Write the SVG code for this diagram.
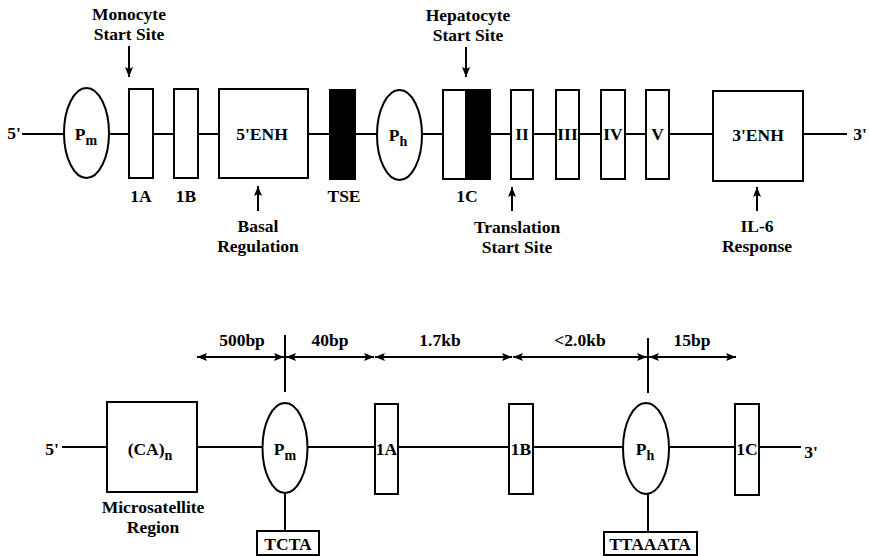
<svg xmlns="http://www.w3.org/2000/svg" width="869" height="556" viewBox="0 0 869 556">
<style>
text{font-family:"Liberation Serif","Times New Roman",serif;font-weight:bold;font-size:17.5px;fill:#000;text-anchor:middle}
.sub{font-size:14px}
.ln{stroke:#000;stroke-width:2;fill:none}
.box{stroke:#000;stroke-width:2;fill:#fff}
.blk{stroke:#000;stroke-width:2;fill:#000}
.arr{stroke:#000;stroke-width:2;fill:none;marker-end:url(#ah)}
.dim{stroke:#000;stroke-width:2;fill:none;marker-start:url(#ah);marker-end:url(#ah)}
</style>
<defs>
<marker id="ah" viewBox="0 0 10 8" refX="10" refY="4" markerWidth="10" markerHeight="8" orient="auto-start-reverse" markerUnits="userSpaceOnUse"><path d="M0,0 L10,4 L0,8 L2,4 z" fill="#000"/></marker>
</defs>
<rect width="869" height="556" fill="#fff"/>
<g id="connectors">
<line class="ln" x1="22" y1="134" x2="847" y2="134"/>
<line class="ln" x1="62" y1="447" x2="801" y2="447"/>
<line class="arr" x1="129" y1="46" x2="129" y2="77"/>
<line class="arr" x1="466" y1="47" x2="466" y2="77"/>
<line class="arr" x1="258" y1="211" x2="258" y2="186"/>
<line class="arr" x1="512" y1="211" x2="512" y2="187"/>
<line class="arr" x1="757" y1="211" x2="757" y2="187"/>
<line class="ln" x1="285" y1="335" x2="285" y2="392"/>
<line class="ln" x1="648" y1="338" x2="648" y2="393"/>
<line class="dim" x1="197" y1="357" x2="284" y2="357"/>
<line class="dim" x1="286" y1="357" x2="374" y2="357"/>
<line class="dim" x1="375" y1="357" x2="512" y2="357"/>
<line class="dim" x1="513" y1="357" x2="647" y2="357"/>
<line class="dim" x1="649" y1="357" x2="736" y2="357"/>
<line class="ln" x1="285" y1="493" x2="285" y2="531"/>
<line class="ln" x1="648" y1="494" x2="648" y2="532"/>
</g>
<g id="top-ends"><text x="14" y="139">5'</text><text x="860" y="140">3'</text></g>
<g id="top-Pm"><ellipse class="box" cx="86.5" cy="133" rx="22.5" ry="45"/><text x="86" y="140">P<tspan class="sub" dy="5">m</tspan></text></g>
<g id="top-1A"><rect class="box" x="129" y="89" width="24" height="89"/><text x="141" y="202">1A</text></g>
<g id="top-1B"><rect class="box" x="174" y="89" width="24" height="89"/><text x="186" y="202">1B</text></g>
<g id="top-5ENH"><rect class="box" x="219" y="89" width="89" height="89"/><text x="262" y="140">5'ENH</text></g>
<g id="top-TSE"><rect class="blk" x="330" y="90" width="25" height="89"/><text x="344" y="202">TSE</text></g>
<g id="top-Ph"><ellipse class="box" cx="399.5" cy="135" rx="22.5" ry="45"/><text x="398" y="141">P<tspan class="sub" dy="5">h</tspan></text></g>
<g id="top-1C"><rect class="box" x="443" y="90" width="47" height="89"/><rect class="blk" x="466" y="90" width="24" height="89"/><text x="467" y="202">1C</text></g>
<g id="top-II"><rect class="box" x="511" y="90" width="22" height="89"/><text x="522" y="140">II</text></g>
<g id="top-III"><rect class="box" x="556" y="90" width="23" height="89"/><text x="567.5" y="140">III</text></g>
<g id="top-IV"><rect class="box" x="601" y="90" width="24" height="89"/><text x="613" y="140">IV</text></g>
<g id="top-V"><rect class="box" x="646" y="90" width="23" height="89"/><text x="657.5" y="140">V</text></g>
<g id="top-3ENH"><rect class="box" x="713" y="91" width="90" height="90"/><text x="758" y="141">3'ENH</text></g>
<g id="lbl-monocyte"><text x="129" y="20">Monocyte</text><text x="129" y="40">Start Site</text></g>
<g id="lbl-hepatocyte"><text x="468" y="21">Hepatocyte</text><text x="468" y="41">Start Site</text></g>
<g id="lbl-basal"><text x="258" y="232">Basal</text><text x="258" y="252">Regulation</text></g>
<g id="lbl-translation"><text x="517" y="233">Translation</text><text x="517" y="253">Start Site</text></g>
<g id="lbl-il6"><text x="757" y="232">IL-6</text><text x="757" y="252">Response</text></g>
<g id="bot-ends"><text x="52" y="455">5'</text><text x="811" y="458">3'</text></g>
<g id="bot-CA"><rect class="box" x="107" y="402" width="90" height="90"/><text x="150" y="455">(CA)<tspan class="sub" dy="5">n</tspan></text><text x="153" y="513">Microsatellite</text><text x="153" y="533">Region</text></g>
<g id="bot-Pm"><ellipse class="box" cx="285" cy="448" rx="22.5" ry="45"/><text x="285" y="455">P<tspan class="sub" dy="5">m</tspan></text></g>
<g id="bot-1A"><rect class="box" x="375" y="404" width="23" height="90"/><text x="386.5" y="455">1A</text></g>
<g id="bot-1B"><rect class="box" x="509" y="404" width="24" height="90"/><text x="521" y="455">1B</text></g>
<g id="bot-Ph"><ellipse class="box" cx="646" cy="448.5" rx="23" ry="45.5"/><text x="645" y="455">P<tspan class="sub" dy="5">h</tspan></text></g>
<g id="bot-1C"><rect class="box" x="735" y="404" width="24" height="91"/><text x="747" y="455">1C</text></g>
<g id="bot-TCTA"><rect class="box" x="257" y="531" width="62" height="24"/><text x="288" y="550">TCTA</text></g>
<g id="bot-TTAAATA"><rect class="box" x="604" y="532" width="93" height="23"/><text x="650" y="550">TTAAATA</text></g>
<g id="dim-labels"><text x="242" y="346">500bp</text><text x="330" y="346">40bp</text><text x="440" y="346">1.7kb</text><text x="580" y="346">&lt;2.0kb</text><text x="692" y="346">15bp</text></g>
</svg>
